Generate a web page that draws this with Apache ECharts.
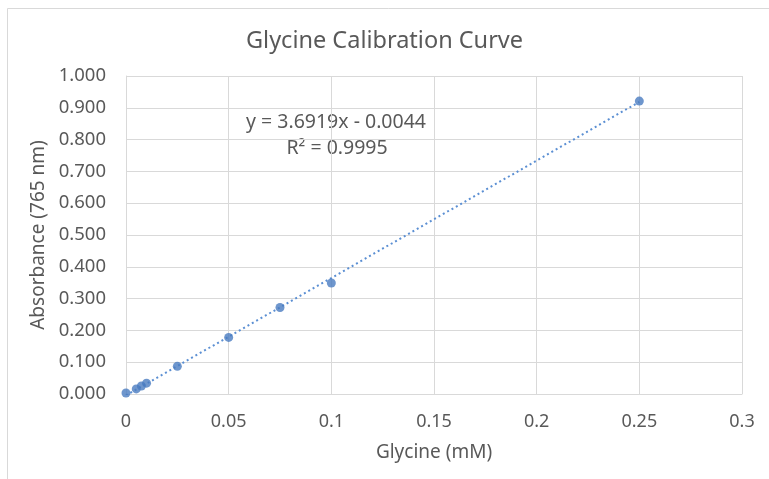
<!DOCTYPE html>
<html>
<head>
<meta charset="utf-8">
<script src="https://cdn.jsdelivr.net/npm/echarts@6/dist/echarts.min.js"></script>
<style>
html,body{margin:0;padding:0;background:#fff;}
#c{width:769px;height:479px;}
</style>
</head>
<body>
<div id="c"></div>
<script>
// Data
var concentration = [0, 0.005, 0.0075, 0.01, 0.025, 0.05, 0.075, 0.1, 0.25];
var absorbance    = [0.003, 0.016, 0.025, 0.034, 0.087, 0.178, 0.272, 0.349, 0.921];
// Trendline endpoints (from the equation shown in the chart: y = 3.6919x - 0.0044)
var trendX = [0, 0.25];
var trendY = [-0.0044, 0.9186];
var xTicks = [0, 0.05, 0.1, 0.15, 0.2, 0.25, 0.3];
var yTicks = [0, 0.1, 0.2, 0.3, 0.4, 0.5, 0.6, 0.7, 0.8, 0.9, 1.0];

var FONT = 'Noto Sans';
var TXT = '#595959';
var GRID = '#d9d9d9';

var chart = echarts.init(document.getElementById('c'), null, {renderer: 'canvas'});
chart.setOption({
  animation: false,
  backgroundColor: '#fff',
  textStyle: {fontFamily: FONT},
  title: {
    text: 'Glycine Calibration Curve',
    left: 'center',
    top: 24,
    textStyle: {fontFamily: FONT, fontSize: 23.5, fontWeight: 'normal', color: TXT}
  },
  grid: {left: 126, right: 27, top: 76, bottom: 85, containLabel: false},
  xAxis: {
    type: 'value',
    min: xTicks[0], max: xTicks[xTicks.length - 1], interval: 0.05,
    name: 'Glycine (mM)',
    nameLocation: 'middle',
    nameGap: 49,
    nameTextStyle: {fontFamily: FONT, fontSize: 19, color: TXT},
    axisLine: {show: true, lineStyle: {color: GRID, width: 1}},
    axisTick: {show: false},
    axisLabel: {
      color: TXT, fontFamily: FONT, fontSize: 18, margin: 19,
      formatter: function (v) { return String(parseFloat(v.toFixed(2))); }
    },
    splitLine: {show: true, lineStyle: {color: GRID, width: 1}}
  },
  yAxis: {
    type: 'value',
    min: yTicks[0], max: yTicks[yTicks.length - 1], interval: 0.1,
    name: 'Absorbance (765 nm)',
    nameLocation: 'middle',
    nameGap: 75,
    nameTextStyle: {fontFamily: FONT, fontSize: 19, color: TXT},
    axisLine: {show: true, lineStyle: {color: GRID, width: 1}},
    axisTick: {show: false},
    axisLabel: {
      color: TXT, fontFamily: FONT, fontSize: 18.5, margin: 20,
      formatter: function (v) { return v.toFixed(3); }
    },
    splitLine: {show: true, lineStyle: {color: GRID, width: 1}}
  },
  series: [
    {
      type: 'line',
      data: trendX.map(function (x, i) { return [x, trendY[i]]; }),
      showSymbol: false,
      symbol: 'none',
      lineStyle: {color: '#5b8fd3', width: 2, type: [2, 3]},
      z: 2,
      silent: true
    },
    {
      type: 'scatter',
      data: concentration.map(function (x, i) { return [x, absorbance[i]]; }),
      symbol: 'circle',
      symbolSize: 9,
      itemStyle: {color: '#4a7cc0'},
      z: 3
    }
  ],
  graphic: [
    {
      type: 'rect',
      shape: {x: 7.5, y: 8.5, width: 900, height: 600},
      style: {fill: 'none', stroke: GRID, lineWidth: 1},
      silent: true, z: -1
    },
    {
      type: 'text', x: 336, y: 122,
      style: {text: 'y = 3.6919x - 0.0044', fill: TXT, font: '19.5px "Noto Sans"', textAlign: 'center', textVerticalAlign: 'middle'}
    },
    {
      type: 'text', x: 337, y: 148,
      style: {text: 'R² = 0.9995', fill: TXT, font: '19.5px "Noto Sans"', textAlign: 'center', textVerticalAlign: 'middle'}
    }
  ]
});
</script>
</body>
</html>
